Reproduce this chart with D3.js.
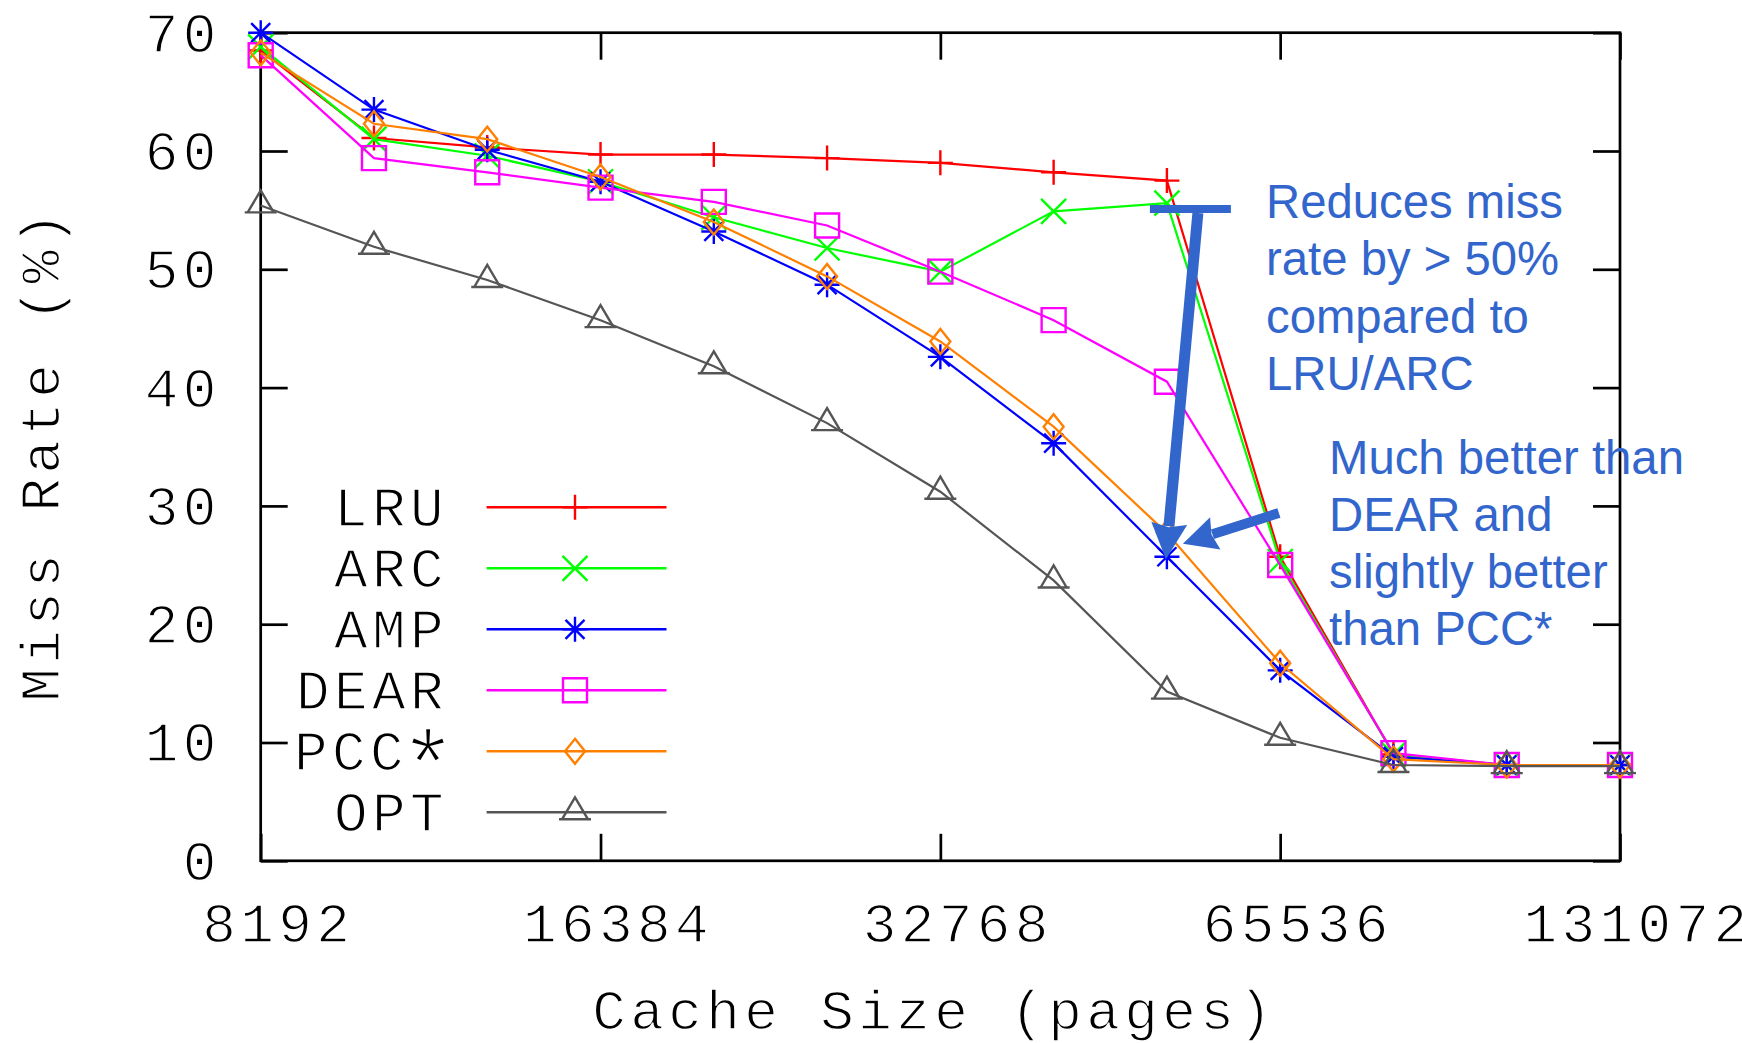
<!DOCTYPE html>
<html><head><meta charset="utf-8">
<script src="https://cdn.jsdelivr.net/npm/d3@7"></script>
<style>html,body{margin:0;padding:0;background:#fff;overflow:hidden}</style>
</head><body>
<svg id="chart" width="1742" height="1043" xmlns="http://www.w3.org/2000/svg"></svg>
<script>
// ---------------- data ----------------
const cacheSizes = [8192, 10321, 13004, 16384, 20643, 26008, 32768, 41285, 52016, 65536, 82570, 104032, 131072];
const lruValues  = [68.5, 61.1, 60.3, 59.7, 59.7, 59.4, 59.0, 58.2, 57.5, 25.7, 9.0, 8.1, 8.1];
const arcValues  = [68.8, 61.0, 59.6, 57.4, 54.4, 51.8, 49.8, 54.9, 55.6, 25.3, 9.0, 8.1, 8.1];
const ampValues  = [70.0, 63.5, 60.1, 57.4, 53.2, 48.7, 42.6, 35.3, 25.7, 16.1, 8.8, 8.1, 8.1];
const dearValues = [68.1, 59.4, 58.2, 56.9, 55.7, 53.7, 49.8, 45.7, 40.5, 25.0, 9.1, 8.1, 8.1];
const pccValues  = [68.3, 62.3, 61.0, 57.8, 54.0, 49.4, 43.9, 36.7, 27.7, 16.7, 8.6, 8.1, 8.1];
const optValues  = [55.4, 51.9, 49.1, 45.7, 41.8, 37.0, 31.2, 23.7, 14.3, 10.4, 8.1, 8.0, 8.0];

const seriesNames  = ["LRU", "ARC", "AMP", "DEAR", "PCC*", "OPT"];
const seriesData   = [lruValues, arcValues, ampValues, dearValues, pccValues, optValues];
const seriesColors = ["#ff0000", "#00ff00", "#0000ff", "#ff00ff", "#ff8000", "#555555"];
const seriesMarks  = ["plus", "cross", "star", "square", "diamond", "triangle"];

const xTickValues = [8192, 16384, 32768, 65536, 131072];
const xTickLabels = ["8192", "16384", "32768", "65536", "131072"];
const yTickValues = [0, 10, 20, 30, 40, 50, 60, 70];
const yTickLabels = ["0", "10", "20", "30", "40", "50", "60", "70"];

const xTitle = "Cache Size (pages)";
const yTitle = "Miss Rate (%)";
const note1 = ["Reduces miss", "rate by > 50%", "compared to", "LRU/ARC"];
const note2 = ["Much better than", "DEAR and", "slightly better", "than PCC*"];

// ---------------- layout ----------------
const L = 260.7, R = 1620, T = 32.7, B = 860.8;
const svg = d3.select("#chart");
const x = d3.scaleLog().base(2).domain([8192, 131072]).range([L, R]);
const y = d3.scaleLinear().domain([0, 70]).range([B, T]);

const monoFont = "'Liberation Mono', 'DejaVu Sans Mono', monospace";
const monoSize = 56, monoLS = 4.4;
const tickLen = 27, axisW = 2.7;

function styleMono(sel) {
  sel.attr("font-family", monoFont).attr("font-size", monoSize)
     .attr("letter-spacing", monoLS).attr("fill", "#000")
     .attr("stroke", "#fff").attr("stroke-width", 1.4);
}

// axes (ticks inward on all four sides)
function cleanAxis(g) {
  g.select(".domain").remove();
  g.selectAll(".tick line").attr("stroke", "#000").attr("stroke-width", axisW);
}
const gLeft = svg.append("g").attr("transform", `translate(${L},0)`)
  .call(d3.axisLeft(y).tickValues(yTickValues).tickSize(-tickLen).tickPadding(40)
        .tickFormat((d, i) => yTickLabels[i]));
cleanAxis(gLeft);
gLeft.selectAll(".tick text").call(styleMono).attr("text-anchor", "end").attr("dy", "0.33em");

const gRight = svg.append("g").attr("transform", `translate(${R},0)`)
  .call(d3.axisRight(y).tickValues(yTickValues).tickSize(-tickLen).tickFormat(""));
cleanAxis(gRight);

const gBottom = svg.append("g").attr("transform", `translate(0,${B})`)
  .call(d3.axisBottom(x).tickValues(xTickValues).tickSize(-tickLen)
        .tickFormat((d, i) => xTickLabels[i]));
cleanAxis(gBottom);
gBottom.selectAll(".tick text").call(styleMono)
  .attr("y", 81).attr("dy", 0).attr("x", 17).attr("text-anchor", "middle");

const gTop = svg.append("g").attr("transform", `translate(0,${T})`)
  .call(d3.axisTop(x).tickValues(xTickValues).tickSize(-tickLen).tickFormat(""));
cleanAxis(gTop);

// border
svg.append("rect").attr("x", L).attr("y", T).attr("width", R - L).attr("height", B - T)
  .attr("fill", "none").attr("stroke", "#000").attr("stroke-width", axisW);

// axis titles
svg.append("text").text(xTitle).call(styleMono)
  .attr("x", (L + R) / 2 - 6).attr("y", 1029).attr("text-anchor", "middle");
svg.append("text").text(yTitle).call(styleMono)
  .attr("text-anchor", "middle")
  .attr("transform", `translate(59,${(T + B) / 2 + 8}) rotate(-90)`);

// ---------------- markers ----------------
function markerPath(type) {
  const s = 12.5;
  switch (type) {
    case "plus": return `M${-s},0H${s}M0,${-s}V${s}`;
    case "cross": return `M${-s},${-s}L${s},${s}M${-s},${s}L${s},${-s}`;
    case "star": { const c = 9.5; return `M${-s},0H${s}M0,${-s}V${s}M${-c},${-c}L${c},${c}M${-c},${c}L${c},${-c}`; }
    case "square": return `M-12,-12H12V12H-12Z`;
    case "diamond": return `M0,-12.5L10,0L0,12.5L-10,0Z`;
    case "triangle": return `M0,-15L13,7L-13,7ZM-16,7H16`;
  }
}

const line = d3.line().x((d, i) => x(cacheSizes[i])).y(d => y(d));

seriesData.forEach((vals, si) => {
  const g = svg.append("g").attr("class", "series");
  g.append("path").datum(vals).attr("d", line)
    .attr("fill", "none").attr("stroke", seriesColors[si]).attr("stroke-width", 2.2);
  g.selectAll("path.mk").data(vals).join("path").attr("class", "mk")
    .attr("transform", (d, i) => `translate(${x(cacheSizes[i])},${y(d)})`)
    .attr("d", markerPath(seriesMarks[si]))
    .attr("fill", "none").attr("stroke", seriesColors[si]).attr("stroke-width", 2.4);
});

// ---------------- legend ----------------
const legTop = 507.3, legStep = 61, legX1 = 486.6, legX2 = 666.5, legMk = 575, legTextX = 448;
seriesNames.forEach((name, si) => {
  const ry = legTop + si * legStep;
  const g = svg.append("g").attr("class", "legend");
  g.append("line").attr("x1", legX1).attr("x2", legX2).attr("y1", ry).attr("y2", ry)
    .attr("stroke", seriesColors[si]).attr("stroke-width", 2.6);
  g.append("path").attr("transform", `translate(${legMk},${ry})`)
    .attr("d", markerPath(seriesMarks[si]))
    .attr("fill", "none").attr("stroke", seriesColors[si]).attr("stroke-width", 2.4);
  const t = g.append("text").call(styleMono).attr("x", legTextX).attr("y", ry + 18.4)
    .attr("text-anchor", "end");
  if (name.endsWith("*")) {
    t.append("tspan").text(name.slice(0, -1));
    t.append("tspan").text("*").attr("font-size", 96).attr("letter-spacing", -8.8)
      .attr("dx", -8.8).attr("dy", 27.8).attr("stroke-width", 2.4);
  } else {
    t.text(name);
  }
});

// ---------------- annotations ----------------
const noteColor = "#3366cc";
const sansFont = "'Liberation Sans', Arial, sans-serif";
function noteBlock(lines, x0, y0) {
  const t = svg.append("text").attr("font-family", sansFont).attr("font-size", 47.3)
    .attr("fill", noteColor);
  lines.forEach((s, i) => t.append("tspan").attr("x", x0).attr("y", y0 + i * 57.3).text(s));
}
noteBlock(note1, 1266, 218);
noteBlock(note2, 1329, 473.5);

function arrow(x1, y1, x2, y2, w, headLen, headW) {
  const dx = x2 - x1, dy = y2 - y1, len = Math.hypot(dx, dy), ux = dx / len, uy = dy / len;
  const bx = x2 - ux * headLen, by = y2 - uy * headLen;
  svg.append("line").attr("x1", x1).attr("y1", y1).attr("x2", bx + ux * 3).attr("y2", by + uy * 3)
    .attr("stroke", noteColor).attr("stroke-width", w);
  svg.append("path")
    .attr("d", `M${x2},${y2}L${bx - uy * headW / 2},${by + ux * headW / 2}L${bx + ux * 4},${by + uy * 4}L${bx + uy * headW / 2},${by - ux * headW / 2}Z`)
    .attr("fill", noteColor);
}
// arrow 1: T-bar at ARC level of 52016, pointing to AMP point at 52016
const ax = x(cacheSizes[8]);
svg.append("line").attr("x1", ax - 17).attr("x2", ax + 64).attr("y1", y(55.1)).attr("y2", y(55.1))
  .attr("stroke", noteColor).attr("stroke-width", 8);
arrow(ax + 31, y(54.75), ax - 1, y(25.5), 11, 36, 36);
// arrow 2: pointing to AMP point from the lower annotation
arrow(ax + 112, y(29.4), ax + 16, y(26.8), 10, 34, 34);
</script>
</body></html>
